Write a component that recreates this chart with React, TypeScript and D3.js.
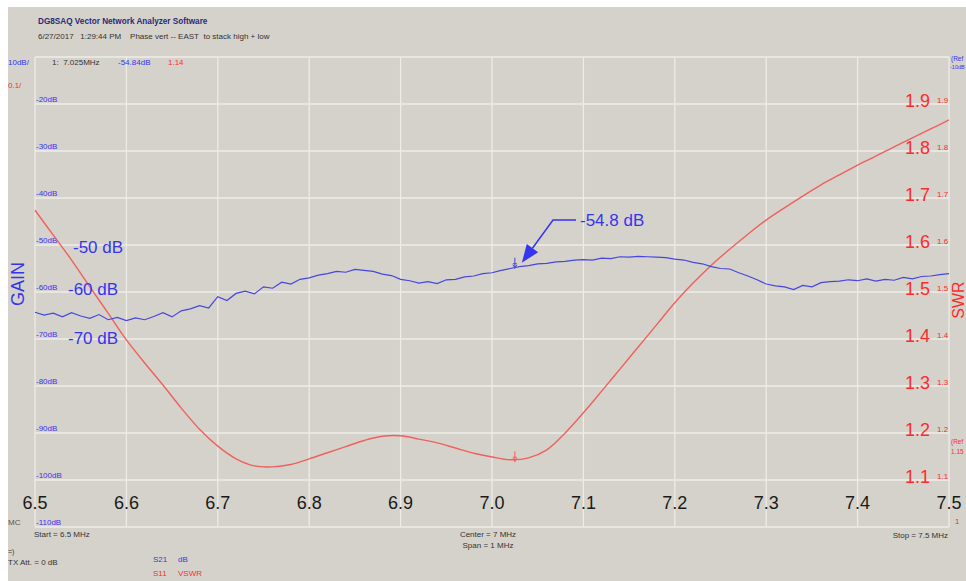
import React from "react";
import * as d3 from "d3";

// ---------- data ----------
const freqTicks = [6.5, 6.6, 6.7, 6.8, 6.9, 7.0, 7.1, 7.2, 7.3, 7.4, 7.5];
const freqTickLabels = ["6.5", "6.6", "6.7", "6.8", "6.9", "7.0", "7.1", "7.2", "7.3", "7.4", "7.5"];
const dbTicks = [-20, -30, -40, -50, -60, -70, -80, -90, -100, -110];
const swrTicks = [1.9, 1.8, 1.7, 1.6, 1.5, 1.4, 1.3, 1.2, 1.1];

// S21 gain (dB), 6.50 .. 7.50 MHz in 0.01 MHz steps
const s21Start = 6.5;
const s21Step = 0.01;
const s21 = [
  -64.3, -64.9, -64.5, -65.3, -64.4, -65.1, -65.6, -64.8, -65.9, -65.4,
  -66.1, -65.5, -65.9, -65.2, -64.4, -65.3, -64.0, -63.6, -62.9, -63.4,
  -61.0, -61.8, -60.3, -59.8, -60.4, -58.9, -59.2, -57.9, -58.3, -57.3,
  -57.0, -56.4, -56.1, -55.6, -55.8, -55.2, -55.4, -55.6, -56.2, -56.5,
  -57.3, -57.6, -58.1, -57.8, -58.2, -57.4, -57.3, -56.8, -56.6, -56.1,
  -55.9, -55.4, -55.0, -54.6, -54.4, -54.0, -53.9, -53.6, -53.5, -53.2,
  -53.1, -53.2, -52.8, -52.9, -52.5, -52.6, -52.4, -52.5, -52.6, -52.7,
  -53.0, -53.2, -53.7, -54.0, -54.6, -55.0, -55.1, -55.9, -56.6, -57.4,
  -58.3, -58.7, -58.9, -59.5, -58.6, -58.9, -58.0, -57.8, -57.7, -57.4,
  -57.6, -57.2, -57.7, -57.3, -57.5, -56.9, -57.2, -56.7, -56.6, -56.3,
  -56.1,
];

// S11 VSWR, 6.50 .. 7.50 MHz in 0.02 MHz steps
const s11Start = 6.5;
const s11Step = 0.02;
const s11 = [
  1.674, 1.621, 1.568, 1.511, 1.455, 1.398, 1.349, 1.302, 1.253, 1.208,
  1.172, 1.145, 1.130, 1.128, 1.133, 1.145, 1.158, 1.171, 1.184, 1.193,
  1.194, 1.187, 1.179, 1.168, 1.157, 1.149, 1.143, 1.147, 1.164, 1.200,
  1.243, 1.289, 1.336, 1.383, 1.430, 1.477, 1.519, 1.557, 1.591, 1.623,
  1.653, 1.679, 1.704, 1.728, 1.749, 1.770, 1.789, 1.809, 1.828, 1.847,
  1.866,
];

const markerFreq = 7.025;
const markerDb = -54.84;
const markerSwr = 1.14;

// ---------- styling ----------
const BG = "#d5d2cb";
const GRID = "#eeece8";
const BLUE = "#3535ee";
const BLUE_TRACE = "#4646e0";
const RED = "#ff2b2b";
const RED_TRACE = "#f0605c";
const FONT = "'Liberation Sans', Arial, sans-serif";

export default function App() {
  const W = 966;
  const H = 581;
  const x = d3.scaleLinear().domain([6.5, 7.5]).range([35, 949]);
  const yDb = d3.scaleLinear().domain([-110, -10]).range([527, 57]);
  const ySwr = d3.scaleLinear().domain([1, 2]).range([527, 57]);

  const s21Pts = s21.map((v, i) => [s21Start + i * s21Step, v] as [number, number]);
  const s11Pts = s11.map((v, i) => [s11Start + i * s11Step, v] as [number, number]);

  const s21Line = d3
    .line<[number, number]>()
    .x((d) => x(d[0]))
    .y((d) => yDb(d[1]))(s21Pts) as string;
  const s11Line = d3
    .line<[number, number]>()
    .x((d) => x(d[0]))
    .y((d) => ySwr(d[1]))
    .curve(d3.curveCatmullRom)(s11Pts) as string;

  const gridH = d3.range(-110, -9, 10);
  const mx = x(markerFreq);
  const myB = yDb(markerDb);
  const myR = ySwr(markerSwr);

  // arrow for annotation
  const tip: [number, number] = [mx + 7, myB - 5];
  const elbow: [number, number] = [553, 220];
  const ang = Math.atan2(tip[1] - elbow[1], tip[0] - elbow[0]);
  const ah = 18;
  const aw = 7;
  const bx = tip[0] - ah * Math.cos(ang);
  const by = tip[1] - ah * Math.sin(ang);
  const head = [
    [tip[0], tip[1]],
    [bx + aw * Math.sin(ang), by - aw * Math.cos(ang)],
    [bx - aw * Math.sin(ang), by + aw * Math.cos(ang)],
  ]
    .map((p) => p.join(","))
    .join(" ");

  const marker = (cx: number, cy: number, color: string) => (
    <g stroke={color} strokeWidth={1} fill="none">
      <line x1={cx} y1={cy - 10} x2={cx} y2={cy + 1} />
      <line x1={cx - 2} y1={cy - 4} x2={cx + 2} y2={cy - 4} />
      <path d={`M${cx - 2},${cy - 3} L${cx},${cy} L${cx + 2},${cy - 3}`} />
    </g>
  );

  return (
    <svg
      width={W}
      height={H}
      style={{ position: "absolute", left: 0, top: 0 }}
      fontFamily={FONT}
    >
      <rect x={0} y={0} width={W} height={H} fill="#ffffff" />
      <rect x={8} y={7} width={W - 8} height={H - 7} fill={BG} />

      {/* header */}
      <text x={38} y={24} fontSize={8.2} fontWeight="bold" fill="#2a2a78">
        DG8SAQ Vector Network Analyzer Software
      </text>
      <text x={38} y={39} fontSize={8} fill="#333">
        6/27/2017{"\u00a0\u00a0\u00a0"}1:29:44 PM{"\u00a0\u00a0\u00a0\u00a0"}Phase vert -- EAST{"\u00a0\u00a0"}to stack high + low
      </text>

      {/* grid */}
      <g stroke={GRID} strokeWidth={1.3}>
        {gridH.map((v) => (
          <line key={"h" + v} x1={35} x2={949} y1={yDb(v)} y2={yDb(v)} />
        ))}
        {freqTicks.map((f) => (
          <line key={"v" + f} x1={x(f)} x2={x(f)} y1={57} y2={527} />
        ))}
      </g>

      {/* top-left scale info */}
      <text x={8} y={65} fontSize={8} fill={BLUE}>10dB/</text>
      <text x={8} y={88} fontSize={8} fill={RED}>0.1/</text>
      <text x={52} y={65} fontSize={8} fill="#333">1:{"\u00a0\u00a0"}7.025MHz</text>
      <text x={118} y={65} fontSize={8} fill={BLUE}>-54.84dB</text>
      <text x={168} y={65} fontSize={8} fill={RED}>1.14</text>

      {/* left dB tick labels */}
      {dbTicks.map((v) => (
        <text key={"db" + v} x={36} y={yDb(v) - 2} fontSize={8} fill={BLUE}>
          {v}dB
        </text>
      ))}
      <text x={8} y={525} fontSize={8} fill="#555">MC</text>

      {/* right SWR labels */}
      {swrTicks.map((v) => (
        <g key={"swr" + v}>
          <text x={930} y={ySwr(v) + 3} fontSize={18} fill={RED} textAnchor="end">
            {v.toFixed(1)}
          </text>
          <text x={937} y={ySwr(v) - 1} fontSize={8} fill={RED}>
            {v.toFixed(1)}
          </text>
        </g>
      ))}
      <text x={955} y={524} fontSize={8} fill={RED}>1</text>
      <text x={951} y={61} fontSize={6.5} fill={BLUE}>(Ref</text>
      <text x={950} y={69} fontSize={5.5} fill={BLUE}>-10dB</text>
      <text x={951} y={444} fontSize={6.5} fill={RED}>(Ref</text>
      <text x={951} y={454} fontSize={6.5} fill={RED}>1.15</text>

      {/* x tick labels */}
      {freqTicks.map((f, i) => (
        <text key={"xl" + f} x={x(f)} y={509} fontSize={18} fill="#1a1a1a" textAnchor="middle">
          {freqTickLabels[i]}
        </text>
      ))}

      {/* traces */}
      <path d={s11Line} fill="none" stroke={RED_TRACE} strokeWidth={1.4} />
      <path d={s21Line} fill="none" stroke={BLUE_TRACE} strokeWidth={1.2} />
      {marker(mx, myB, BLUE_TRACE)}
      {marker(mx, myR, RED_TRACE)}

      {/* axis titles */}
      <text
        transform="translate(24,284) rotate(-90)"
        fontSize={18}
        fill={BLUE}
        textAnchor="middle"
      >
        GAIN
      </text>
      <text
        transform="translate(964,300) rotate(-90)"
        fontSize={16}
        fill={RED}
        textAnchor="middle"
      >
        SWR
      </text>

      {/* annotations */}
      <text x={73} y={253} fontSize={17} fill={BLUE}>-50 dB</text>
      <text x={68} y={295} fontSize={17} fill={BLUE}>-60 dB</text>
      <text x={68} y={344} fontSize={17} fill={BLUE}>-70 dB</text>
      <text x={580} y={226} fontSize={17} fill={BLUE}>-54.8 dB</text>
      <polyline
        points={`576,220 ${elbow[0]},${elbow[1]} ${bx},${by}`}
        fill="none"
        stroke={BLUE}
        strokeWidth={1.5}
      />
      <polygon points={head} fill={BLUE} />

      {/* bottom info */}
      <text x={34} y={537} fontSize={8} fill="#333">Start = 6.5 MHz</text>
      <text x={488} y={537} fontSize={8} fill="#333" textAnchor="middle">Center = 7 MHz</text>
      <text x={488} y={548} fontSize={8} fill="#333" textAnchor="middle">Span = 1 MHz</text>
      <text x={948} y={538} fontSize={8} fill="#333" textAnchor="end">Stop = 7.5 MHz</text>
      <text x={8} y={554} fontSize={7} fill="#333">=)</text>
      <text x={8} y={565} fontSize={8} fill="#333">TX Att.{"\u00a0"}= 0 dB</text>
      <text x={153} y={562} fontSize={8} fill={BLUE}>S21</text>
      <text x={178} y={562} fontSize={8} fill={BLUE}>dB</text>
      <text x={153} y={576} fontSize={8} fill={RED}>S11</text>
      <text x={178} y={576} fontSize={8} fill={RED}>VSWR</text>
    </svg>
  );
}
